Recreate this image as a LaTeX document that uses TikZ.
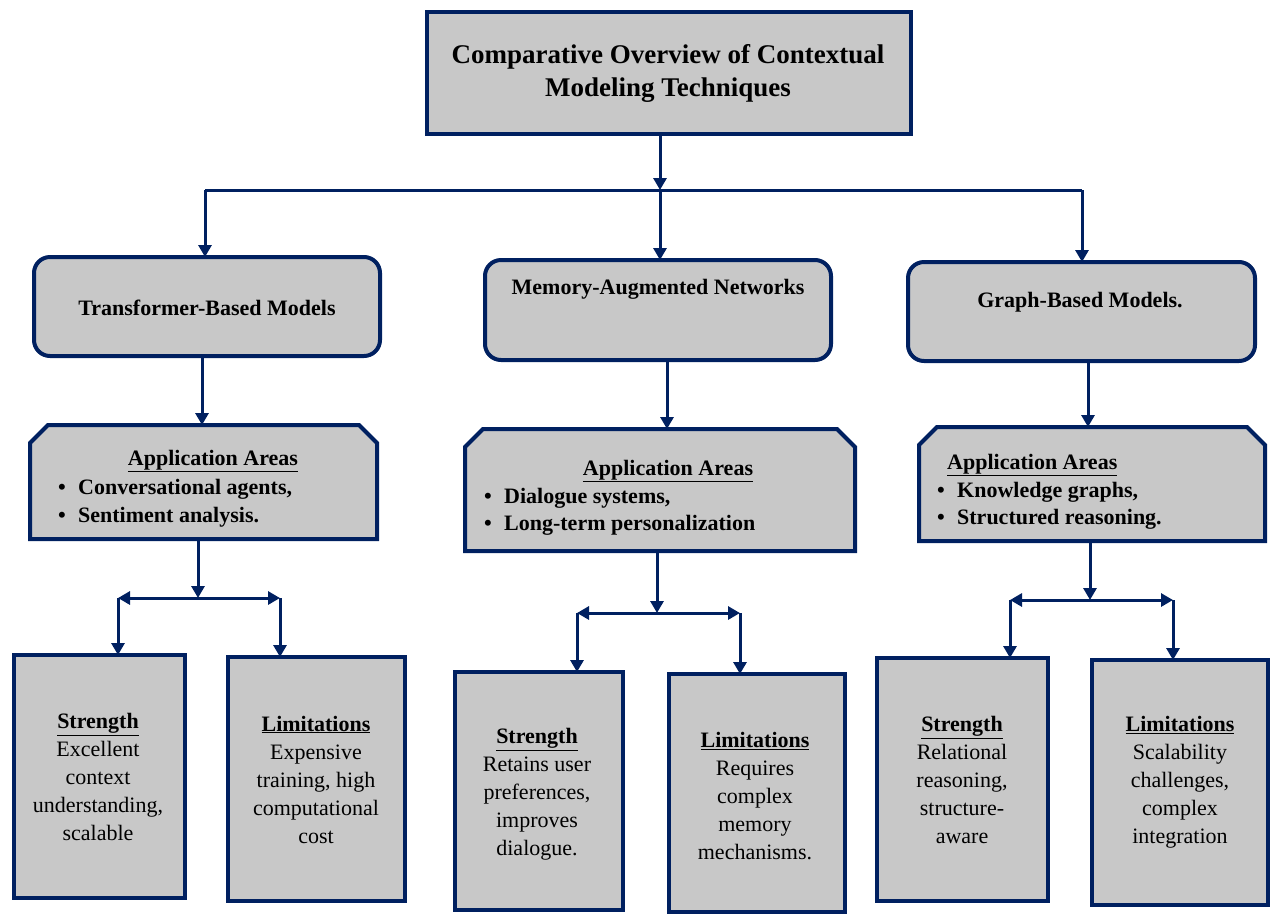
\documentclass[tikz,border=0pt]{standalone}
\usepackage{fontspec}
\setmainfont{Liberation Serif}
\usetikzlibrary{arrows.meta,calc}
\definecolor{navy}{RGB}{0,32,96}
\definecolor{boxgray}{RGB}{200,200,200}
\tikzset{
  box/.style={draw=navy, line width=4pt, fill=boxgray, inner sep=0pt, outer sep=0pt, miter limit=10},
  rbox/.style={box, rounded corners=16pt},
  cframe/.style={draw=none, inner sep=0pt, outer sep=0pt},
  cfill/.style={draw=navy, line width=4pt, fill=boxgray, line join=miter},
  conn/.style={draw=navy, line width=3pt},
  arr/.style={conn, -{Triangle[length=12pt,width=13pt]}},
  darr/.style={conn, {Triangle[length=12pt,width=13pt]}-{Triangle[length=12pt,width=13pt]}},
  midtxt/.style={font=\fontsize{22}{28}\selectfont\bfseries, inner sep=0pt},
  bodytxt/.style={font=\fontsize{22}{28}\selectfont, align=center, inner sep=0pt},
  titletxt/.style={font=\fontsize{27}{33}\selectfont\bfseries, align=center, inner sep=0pt},
}
\newcommand{\bul}{\makebox[20pt][l]{\textbullet}}
\newcommand{\chambox}[1]{%
  \draw[cfill] (#1.south west) -- ($(#1.north west)+(0,18)$) -- ($(#1.north west)+(18,0)$)
    -- ($(#1.north east)+(-18,0)$) -- ($(#1.north east)+(0,18)$) -- (#1.south east) -- cycle;}
\begin{document}
\begin{tikzpicture}[x=1pt,y=-1pt]
\useasboundingbox (0,0) rectangle (1271,914);
% boxes
\node[box, minimum width=484pt, minimum height=122pt] (title) at (669,73) {};
\node[titletxt] (titleT) at (668,73) {Comparative Overview of Contextual\\Modeling Techniques};

\node[rbox, minimum width=346pt, minimum height=99pt] (tbox) at (207,306.5) {};
\node[rbox, minimum width=346pt, minimum height=100pt] (mbox) at (658,310) {};
\node[rbox, minimum width=347pt, minimum height=99pt] (gbox) at (1081.5,311.5) {};
\node[midtxt] (tT) at (207,308) {Transformer-Based Models};
\node[midtxt] (mT) at (658,289) {Memory-Augmented Networks};
\node[midtxt] (gT) at (1080,302) {Graph-Based Models.};

\node[cframe, minimum width=347pt, minimum height=114pt] (a1) at (203.5,482) {};
\node[cframe, minimum width=390pt, minimum height=122pt] (a2) at (660,490) {};
\node[cframe, minimum width=346pt, minimum height=114pt] (a3) at (1092,484) {};
\chambox{a1}
\chambox{a2}
\chambox{a3}

\node[midtxt, anchor=base] (a1h) at (213,465) {\underline{Application Areas}};
\node[midtxt, anchor=base west] (a1b1) at (58,494) {\bul Conversational agents,};
\node[midtxt, anchor=base west] (a1b2) at (58,522) {\bul Sentiment analysis.};

\node[midtxt, anchor=base] (a2h) at (668,475) {\underline{Application Areas}};
\node[midtxt, anchor=base west] (a2b1) at (484,503) {\bul Dialogue systems,};
\node[midtxt, anchor=base west] (a2b2) at (484,530) {\bul Long-term personalization};

\node[midtxt, anchor=base west] (a3h) at (947,469) {\underline{Application Areas}};
\node[midtxt, anchor=base west] (a3b1) at (937,497) {\bul Knowledge graphs,};
\node[midtxt, anchor=base west] (a3b2) at (937,524) {\bul Structured reasoning.};

\node[box, minimum width=171pt, minimum height=243pt] (s1) at (99.5,776.5) {};
\node[box, minimum width=177pt, minimum height=244pt] (l1) at (316.5,779) {};
\node[box, minimum width=168pt, minimum height=238pt] (s2) at (539,791) {};
\node[box, minimum width=176pt, minimum height=238pt] (l2) at (757,793) {};
\node[box, minimum width=171pt, minimum height=243pt] (s3) at (962.5,779.5) {};
\node[box, minimum width=176pt, minimum height=245pt] (l3) at (1180,782.5) {};

\node[bodytxt] (s1T) at (98,777) {\underline{\textbf{Strength}}\\Excellent\\context\\understanding,\\scalable};
\node[bodytxt] (l1T) at (316,779.5) {\underline{\textbf{Limitations}}\\Expensive\\training, high\\computational\\cost};
\node[bodytxt] (s2T) at (537,794.5) {\underline{\textbf{Strength}}\\Retains user\\preferences,\\improves\\dialogue.};
\node[bodytxt] (l2T) at (755,796.5) {\underline{\textbf{Limitations}}\\Requires\\complex\\memory\\mechanisms.};
\node[bodytxt] (s3T) at (962,780) {\underline{\textbf{Strength}}\\Relational\\reasoning,\\structure-\\aware};
\node[bodytxt] (l3T) at (1180,782) {\underline{\textbf{Limitations}}\\Scalability\\challenges,\\complex\\integration};

% junctions
\coordinate (j0) at (660,190);
\coordinate (jL) at (205,190);
\coordinate (jR) at (1082,190);
\coordinate (k1) at (202,0);
\coordinate (k2) at (667,0);
\coordinate (k3) at (1088,0);
\coordinate (c1) at (198,598);
\coordinate (s1l) at (118,598);
\coordinate (s1r) at (280,598);
\coordinate (c2) at (657,613);
\coordinate (s2l) at (577,613);
\coordinate (s2r) at (740,613);
\coordinate (c3) at (1090,600);
\coordinate (s3l) at (1010,600);
\coordinate (s3r) at (1173,600);

% connectors
\draw[arr] (title.south -| j0) -- (j0);
\draw[conn] (jL) -- (jR);
\draw[arr] (jL) -- (jL |- tbox.north);
\draw[arr] (j0) -- (j0 |- mbox.north);
\draw[arr] (jR) -- (jR |- gbox.north);

\draw[arr] (tbox.south -| k1) -- (k1 |- a1.north);
\draw[arr] (mbox.south -| k2) -- (k2 |- a2.north);
\draw[arr] (gbox.south -| k3) -- (k3 |- a3.north);

\draw[arr] (a1.south -| c1) -- (c1);
\draw[darr] (s1l) -- (s1r);
\draw[arr] (s1l) -- (s1l |- s1.north);
\draw[arr] (s1r) -- (s1r |- l1.north);

\draw[arr] (a2.south -| c2) -- (c2);
\draw[darr] (s2l) -- (s2r);
\draw[arr] (s2l) -- (s2l |- s2.north);
\draw[arr] (s2r) -- (s2r |- l2.north);

\draw[arr] (a3.south -| c3) -- (c3);
\draw[darr] (s3l) -- (s3r);
\draw[arr] (s3l) -- (s3l |- s3.north);
\draw[arr] (s3r) -- (s3r |- l3.north);
\end{tikzpicture}
\end{document}
